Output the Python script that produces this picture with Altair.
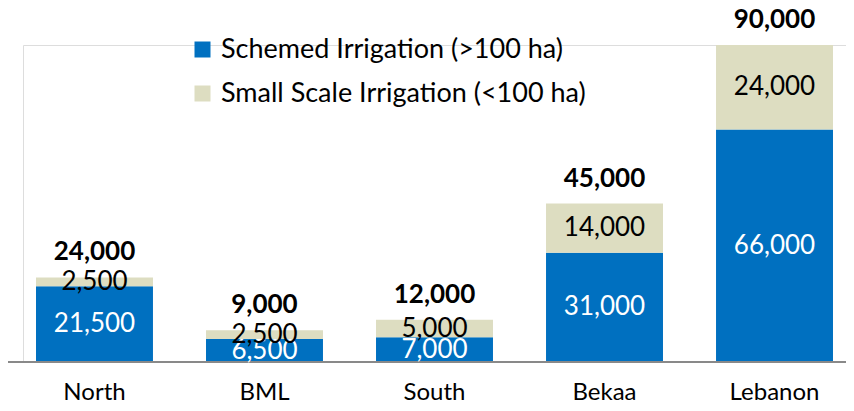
import altair as alt
import pandas as pd

regions = ["North", "BML", "South", "Bekaa", "Lebanon"]
schemed = [21500, 6500, 7000, 31000, 66000]
small_scale = [2500, 2500, 5000, 14000, 24000]
series_names = ["Schemed Irrigation (>100 ha)", "Small Scale Irrigation (<100 ha)"]
colors = ["#0070C0", "#DDDDC1"]

rows = []
for i, r in enumerate(regions):
    rows.append({"region": r, "series": series_names[0], "value": schemed[i], "order": 0})
    rows.append({"region": r, "series": series_names[1], "value": small_scale[i], "order": 1})
df = pd.DataFrame(rows)

FONT = "Lato"
W, H = 823, 317

x_scale = alt.Scale(paddingInner=0.312, paddingOuter=0.0765)
x_enc = alt.X("region:N", sort=regions, scale=x_scale,
              axis=alt.Axis(title=None, labelAngle=0, ticks=False, domain=False,
                            labelFont=FONT, labelFontSize=24, labelColor="#000000",
                            labelPadding=18, grid=False))
x_plain = alt.X("region:N", sort=regions, scale=x_scale)
y_scale = alt.Scale(domain=[0, 90000], nice=False, zero=True)

base = alt.Chart(df)

bars = base.mark_bar().encode(
    x=x_enc,
    y=alt.Y("value:Q", stack="zero", scale=y_scale, axis=None),
    color=alt.Color("series:N", sort=series_names,
                    scale=alt.Scale(domain=series_names, range=colors),
                    legend=alt.Legend(title=None, orient="none", legendX=166, legendY=-9,
                                      symbolType="square", symbolSize=256,
                                      symbolStrokeWidth=0, labelFont=FONT,
                                      labelFontSize=27, labelColor="#000000",
                                      rowPadding=16, padding=0, labelOffset=5,
                                      labelLimit=600)),
    order=alt.Order("order:Q"),
)

baseline = alt.Chart(pd.DataFrame({"zero": [0]})).mark_rule(
    color="#898989", strokeWidth=2
).encode(
    y=alt.Y("zero:Q", scale=y_scale),
    x=alt.value(-15),
    x2=alt.value(W),
)

seg_labels = base.transform_stack(
    stack="value", groupby=["region"], as_=["y0", "y1"],
    sort=[alt.SortField("order", order="ascending")]
).transform_calculate(
    mid="(datum.y0 + datum.y1) / 2"
).mark_text(font=FONT, fontSize=26, baseline="middle").encode(
    x=x_plain,
    y=alt.Y("mid:Q", scale=y_scale),
    text=alt.Text("value:Q", format=","),
    color=alt.Color("series:N", scale=alt.Scale(domain=series_names, range=["#FFFFFF", "#000000"]),
                    legend=None),
)

totals = base.transform_aggregate(
    total="sum(value)", groupby=["region"]
).mark_text(font=FONT, fontSize=26, fontWeight="bold", baseline="middle", dy=-25,
            color="#000000").encode(
    x=x_plain,
    y=alt.Y("total:Q", scale=y_scale),
    text=alt.Text("total:Q", format=","),
)

chart = alt.layer(bars, baseline, seg_labels, totals).resolve_scale(color="independent").properties(
    width=W, height=H,
    autosize=alt.AutoSizeParams(type="none"),
    padding={"top": 37, "left": 15, "right": 0, "bottom": 41},
).configure_view(strokeWidth=0, stroke="transparent").configure_axis(
    grid=False, domain=False, ticks=False
).configure_axisY(disable=True).configure(background="white")

chart.save("out.html", embed_options={"renderer": "svg", "actions": False})
